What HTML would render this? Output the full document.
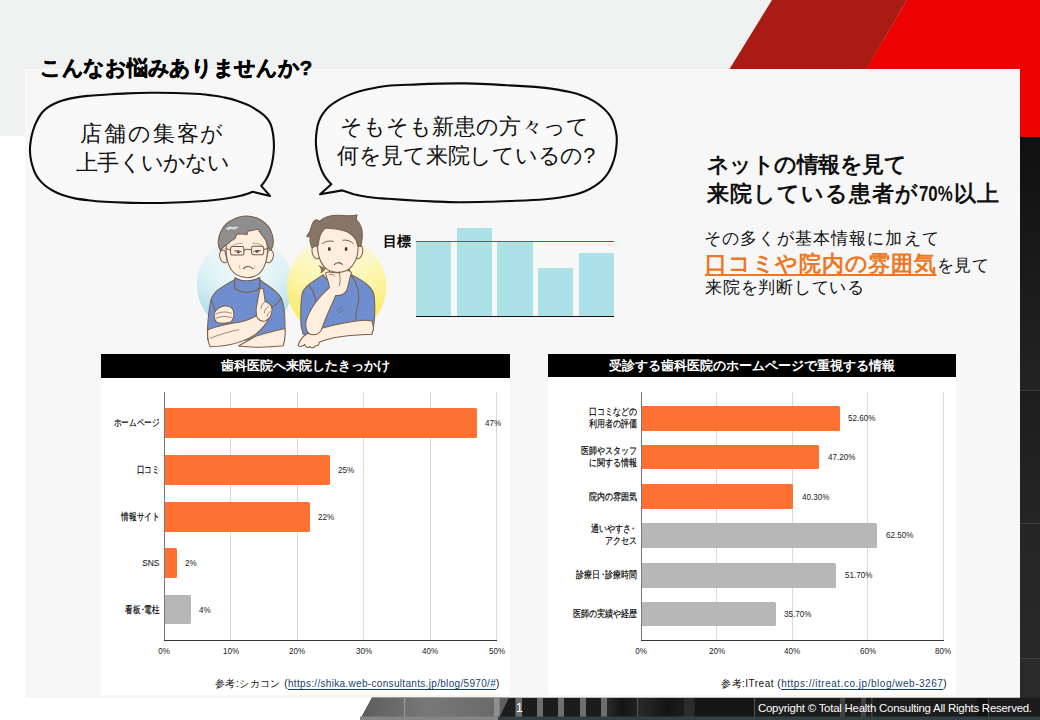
<!DOCTYPE html>
<html lang="ja">
<head>
<meta charset="utf-8">
<title>こんなお悩みありませんか?</title>
<style>
*{margin:0;padding:0;box-sizing:border-box;}
html,body{width:1040px;height:720px;overflow:hidden;background:#fff;}
body{font-family:"Liberation Sans",sans-serif;color:#000;position:relative;}
.abs{position:absolute;}
#stage{position:absolute;left:0;top:0;width:1040px;height:720px;overflow:hidden;background:#fff;}
#topband{left:0;top:0;width:1040px;height:135.6px;background:#f0f1f1;}
#panel{left:25px;top:68.5px;width:995px;height:629px;background:#f7f7f7;border-top:1px solid #fbfbfb;border-left:1px solid #fbfbfb;}
#rightdark{left:1020px;top:136.5px;width:20px;height:584px;background:linear-gradient(to bottom,#101010 0,#232323 253px,#3a3a3a 253px,#3a3a3a 254px,#1d1d1d 254px,#252525 386px,#3c3c3c 386px,#3c3c3c 387px,#252525 387px,#292929 521px,#404040 521px,#404040 522px,#2a2a2a 522px,#2a2a2a 100%);}
#title{left:40px;top:54px;font-size:20.9px;font-weight:bold;line-height:28px;white-space:nowrap;letter-spacing:-0.3px;-webkit-text-stroke:.5px #000;}
.nw{white-space:nowrap;}
.bub{font-size:21.6px;line-height:29px;text-align:center;white-space:nowrap;color:#111;}
.hd{font-size:21.6px;font-weight:bold;line-height:29px;white-space:nowrap;color:#111;}
.tx{font-size:17.4px;line-height:25.5px;white-space:nowrap;color:#111;}
.or{font-size:21.6px;letter-spacing:.75px;font-weight:bold;color:#ee7722;text-decoration:underline;text-decoration-thickness:1.5px;text-underline-offset:2.5px;}
.ctitle{background:#000;color:#fff;font-weight:bold;font-size:13px;line-height:23px;text-align:center;white-space:nowrap;}
.cbody{background:#fff;}
.grid{width:1px;background:#d9d9d9;}
.axis{background:#5a5a5a;}
.bar{height:29.5px;background:#ff7033;border-radius:0 1.5px 1.5px 0;}
.bar.g{background:#b7b7b7;}
.lab{font-size:9.6px;line-height:12px;text-align:right;white-space:nowrap;color:#000;-webkit-text-stroke:.18px #000;transform:scaleX(.76);transform-origin:100% 50%;}
.val{font-size:9.5px;line-height:12px;white-space:nowrap;color:#222;transform:scaleX(.85);transform-origin:0 50%;}
.tick{font-size:9.5px;line-height:12px;white-space:nowrap;color:#222;width:40px;margin-left:-20px;text-align:center;transform:scaleX(.85);}
.ref{font-size:10px;line-height:14px;white-space:nowrap;color:#111;}
.md{margin:0 -.25em;}
.lab.b{transform:scaleX(.8);}
.ref u{color:#173f6e;text-decoration:underline;text-underline-offset:2px;text-decoration-thickness:1px;}

</style>
</head>
<body>
<div id="stage">
<div id="topband" class="abs"></div>
<svg class="abs" style="left:700px;top:0" width="340" height="140" viewBox="700 0 340 140">
<polygon points="772,0 907,0 826,138 687,138" fill="#a81c14"/>
<polygon points="907,0 1040,0 1040,137 826,137" fill="#ed0202"/>
</svg>
<div id="rightdark" class="abs"></div>
<div id="panel" class="abs"></div>

<!-- speech bubbles -->
<svg class="abs" style="left:0;top:0" width="1040" height="720" viewBox="0 0 1040 720">
<path d="M252.9,191.8 C251.0,192.4 245.6,194.5 241.7,195.5 C237.8,196.5 233.4,197.3 229.2,198.0 C225.0,198.7 221.6,199.2 216.7,199.7 C211.8,200.2 206.9,200.7 200.0,201.2 C193.1,201.7 183.3,202.2 175.0,202.5 C166.7,202.8 158.3,203.0 150.0,203.0 C141.7,203.0 132.5,202.8 125.0,202.6 C117.5,202.4 110.8,202.1 105.0,201.8 C99.2,201.4 95.0,201.1 90.0,200.5 C85.0,199.9 79.6,199.3 75.0,198.4 C70.4,197.5 66.2,196.4 62.5,195.1 C58.8,193.8 55.4,192.1 52.5,190.5 C49.6,188.9 47.2,187.3 45.0,185.5 C42.8,183.7 40.9,181.8 39.2,179.7 C37.5,177.6 36.2,175.5 35.0,173.0 C33.8,170.5 32.9,167.5 32.1,164.7 C31.3,161.9 30.8,159.1 30.4,156.3 C30.0,153.5 29.9,151.1 30.0,148.0 C30.1,144.9 30.7,141.1 31.2,138.0 C31.8,134.9 32.4,132.5 33.3,129.7 C34.2,126.9 35.3,124.1 36.7,121.3 C38.1,118.5 39.9,115.3 41.7,113.0 C43.5,110.7 45.4,109.1 47.5,107.6 C49.6,106.1 51.7,105.0 54.2,103.8 C56.7,102.6 59.7,101.4 62.5,100.5 C65.3,99.6 66.6,99.2 70.8,98.4 C75.0,97.6 81.8,96.5 87.5,95.9 C93.2,95.3 98.4,95.1 105.0,94.7 C111.6,94.3 119.5,93.7 127.0,93.4 C134.5,93.1 142.0,92.9 150.0,92.8 C158.0,92.7 166.7,92.8 175.0,93.0 C183.3,93.2 193.8,93.6 200.0,94.0 C206.2,94.4 208.3,94.9 212.5,95.5 C216.7,96.1 220.8,96.7 225.0,97.6 C229.2,98.5 233.3,99.5 237.5,100.9 C241.7,102.3 246.2,104.0 250.0,105.9 C253.8,107.8 257.2,110.2 260.0,112.2 C262.8,114.2 264.9,115.9 266.7,118.0 C268.5,120.1 269.8,122.2 270.8,124.7 C271.8,127.2 272.4,130.2 272.9,133.0 C273.4,135.8 273.6,138.8 273.8,141.3 C273.9,143.8 274.0,145.5 273.9,148.0 C273.8,150.5 273.6,153.5 273.2,156.3 C272.8,159.1 272.4,161.9 271.7,164.7 C271.0,167.5 270.2,170.5 269.2,173.0 C268.2,175.5 267.1,177.5 265.8,179.7 C264.5,181.8 262.0,184.9 261.2,185.9 L270,195.9 Z" fill="#f9f9f9" stroke="#0c0c0c" stroke-width="2.1" stroke-linejoin="round"/>
<path d="M331.3,184.2 C330.5,183.4 328.1,181.0 326.8,179.2 C325.4,177.4 324.2,175.7 323.0,173.3 C321.8,170.9 320.6,167.8 319.7,165.0 C318.8,162.2 318.2,159.5 317.6,156.7 C317.0,153.9 316.6,151.1 316.3,148.3 C316.0,145.5 315.8,143.1 315.9,140.0 C316.0,136.9 316.3,133.1 316.8,130.0 C317.2,127.0 317.8,124.3 318.8,121.7 C319.8,119.1 320.9,116.7 322.6,114.2 C324.3,111.7 326.4,108.9 328.8,106.7 C331.2,104.5 334.0,102.7 337.2,100.8 C340.4,98.9 344.2,97.0 348.0,95.4 C351.8,93.8 355.5,92.4 359.7,91.2 C363.9,90.1 368.3,89.2 373.0,88.3 C377.7,87.4 380.6,86.4 388.0,85.8 C395.4,85.2 408.8,84.8 417.5,84.4 C426.2,84.0 432.1,83.8 440.0,83.6 C447.9,83.4 457.2,83.3 465.0,83.4 C472.8,83.5 480.0,83.8 487.0,84.1 C494.0,84.4 500.2,84.9 506.9,85.3 C513.6,85.7 520.6,86.0 527.0,86.4 C533.4,86.8 539.9,87.4 545.0,87.9 C550.1,88.4 553.3,88.9 557.5,89.6 C561.7,90.3 565.8,91.1 570.0,92.1 C574.2,93.1 578.6,94.3 582.5,95.8 C586.4,97.2 590.1,99.0 593.3,100.8 C596.5,102.6 599.2,104.6 601.7,106.7 C604.2,108.8 606.5,111.1 608.3,113.3 C610.1,115.5 611.4,117.6 612.5,120.0 C613.6,122.4 614.3,125.0 615.0,127.5 C615.7,130.0 616.2,132.9 616.5,135.0 C616.8,137.1 616.8,137.8 616.8,140.0 C616.8,142.2 616.6,145.5 616.2,148.3 C615.9,151.1 615.5,153.9 614.8,156.7 C614.1,159.5 613.2,162.2 612.1,165.0 C611.0,167.8 609.5,170.8 607.9,173.3 C606.3,175.8 604.6,177.9 602.5,180.0 C600.4,182.1 597.9,183.9 595.0,185.8 C592.1,187.7 588.6,189.7 585.0,191.2 C581.4,192.8 577.5,194.0 573.3,195.0 C569.1,196.0 564.7,196.8 560.0,197.5 C555.3,198.2 552.3,198.6 545.0,199.2 C537.7,199.8 525.8,200.4 516.3,200.8 C506.8,201.2 497.4,201.6 488.0,201.8 C478.6,202.0 468.3,202.2 460.0,202.2 C451.7,202.2 445.1,201.8 438.0,201.6 C430.9,201.3 425.8,201.2 417.5,200.7 C409.2,200.2 394.4,199.2 388.0,198.8 C381.6,198.3 382.4,198.5 378.8,198.2 C375.2,197.9 370.5,197.4 366.3,196.7 C362.1,196.0 357.8,195.2 353.8,194.2 C349.8,193.1 344.1,191.0 342.2,190.4 L320.1,194.2 Z" fill="#f9f9f9" stroke="#0c0c0c" stroke-width="2.1" stroke-linejoin="round"/>
</svg>
<div class="abs bub" style="left:52px;top:118.5px;width:200px;"><span style="letter-spacing:1.8px;margin-right:-1.8px">店舗の集客が</span><br><span style="letter-spacing:-.8px;margin-right:.8px;position:relative;left:1.3px">上手くいかない</span></div>
<div class="abs bub" style="left:334px;top:111.5px;width:260px;">そもそも新患の方々って<br><span style="letter-spacing:-.25px;position:relative;left:2px">何を見て来院しているの?</span></div>

<!-- illustration: two worried men -->
<svg class="abs" style="left:190px;top:205px" width="210" height="145" viewBox="0 0 1040 718">
<defs>
<linearGradient id="cb" x1="0" y1="0" x2="0" y2="1"><stop offset="0" stop-color="#e4f5f8" stop-opacity=".45"/><stop offset=".4" stop-color="#d2eef3"/><stop offset="1" stop-color="#a4dbe7"/></linearGradient>
<linearGradient id="cy" x1="0" y1="0" x2="0" y2="1"><stop offset="0" stop-color="#fdf8c0" stop-opacity=".3"/><stop offset=".3" stop-color="#fdf5a6" stop-opacity=".9"/><stop offset=".55" stop-color="#fcf08a"/><stop offset="1" stop-color="#fae84e"/></linearGradient>
<radialGradient id="cw" cx="50%" cy="45%" r="50%"><stop offset="0" stop-color="#fff" stop-opacity=".75"/><stop offset=".6" stop-color="#fff" stop-opacity=".35"/><stop offset="1" stop-color="#fff" stop-opacity="0"/></radialGradient>
<clipPath id="clipb"><rect x="0" y="0" width="1040" height="718"/></clipPath>
</defs>
<g clip-path="url(#clipb)" stroke-linejoin="round" stroke-linecap="round">
<!-- bg circles -->
<circle cx="272" cy="395" r="238" fill="url(#cb)"/><circle cx="272" cy="395" r="238" fill="url(#cw)"/>
<circle cx="726" cy="405" r="246" fill="url(#cy)"/><circle cx="726" cy="405" r="246" fill="url(#cw)" opacity=".6"/>

<!-- LEFT MAN -->
<g stroke="#7b5d47" stroke-width="5">
<!-- body -->
<path d="M222,368 C170,400 120,420 104,470 C92,520 88,580 86,622 L88,668 L468,668 L470,622 C472,560 468,500 452,462 C430,420 380,400 345,368 L345,410 C300,440 260,435 222,410 Z" fill="#6f8ecf"/>
<!-- collar -->
<path d="M222,360 C222,380 220,400 222,412 C260,440 310,440 345,410 C347,395 345,375 345,358 C310,380 260,382 222,360 Z" fill="#6f8ecf"/>
<!-- sleeve lines -->
<path d="M104,470 C120,500 128,530 130,560" fill="none"/>
<path d="M452,462 C440,480 420,500 400,512" fill="none"/>
<!-- arms crossed -->
<path d="M470,612 C440,618 390,630 325,650 L240,698 C320,708 420,702 462,697 C470,670 473,640 470,612 Z" fill="#fdeedd"/>
<path d="M88,618 C86,650 90,682 100,702 C185,700 262,682 322,642 C352,620 378,590 394,556 L332,546 C300,566 252,582 215,584 C170,592 128,602 88,618 Z" fill="#fdeedd"/>
<path d="M100,660 C150,640 200,625 240,618" fill="none" stroke-width="3.5"/>
<!-- left fist -->
<path d="M120,548 C118,525 140,505 168,500 C192,498 212,508 216,528 C220,548 214,566 204,578 C180,586 150,588 132,580 C122,572 120,560 120,548 Z" fill="#fdeedd"/>
<path d="M128,540 C150,528 178,526 205,536 M130,560 C155,550 180,550 208,558" fill="none" stroke-width="3.5"/>
<!-- right hand pointing -->
<path d="M345,420 C350,408 362,410 364,422 L372,478 C392,484 408,500 406,524 C404,548 392,566 372,574 C358,578 344,572 334,560 C326,540 326,512 332,490 C336,466 340,442 345,420 Z" fill="#fdeedd"/>
<path d="M372,478 C360,486 352,498 352,512 M388,504 C376,510 368,522 368,534 M398,528 C388,532 382,542 382,552" fill="none" stroke-width="3.5"/>
<!-- ears -->
<path d="M172,225 C150,215 140,245 152,270 C160,288 178,290 185,280 Z" fill="#fdeedd"/>
<path d="M388,225 C410,215 420,245 408,270 C400,288 382,290 375,280 Z" fill="#fdeedd"/>
<!-- face -->
<path d="M180,200 C175,260 190,320 230,345 C262,365 305,365 335,345 C372,320 388,260 382,200 C382,70 180,70 180,200 Z" fill="#fdeedd"/>
<!-- hair -->
<path d="M151,226 C140,205 138,192 140,179 C142,150 150,135 160,118 C172,98 190,82 209,74 C232,62 255,55 281,55 C305,55 328,62 347,72 C368,84 385,100 396,118 C406,138 412,160 413,179 C413,195 408,210 402,222 L391,217 C390,210 388,205 385,201 C382,190 378,181 374,173 C369,165 364,158 358,151 C350,140 343,130 336,119 C320,124 302,129 288,128 L282,147 C266,140 246,144 230,145 L225,164 C205,176 182,196 162,212 Z" fill="#8e8e8e"/>
</g>
<path d="M176,120 C186,106 204,104 214,110 C224,104 236,106 243,112 C232,113 224,118 220,124 C210,117 198,118 192,126 C188,120 182,119 176,120 Z" fill="#d9d9d9"/>
<!-- glasses -->
<g fill="none" stroke="#6a5a50" stroke-width="5">
<rect x="201" y="206" width="66" height="42" rx="9"/>
<rect x="305" y="204" width="60" height="42" rx="9"/>
<path d="M267,224 C280,218 292,218 305,223 M201,222 L176,216 M365,220 L392,214"/>
</g>
<!-- eyes & brows -->
<g fill="none" stroke="#6b4e3c" stroke-width="5">
<path d="M222,228 C232,225 244,226 254,232"/>
<path d="M316,231 C326,225 338,224 348,227"/>
<path d="M212,201 C228,192 245,189 259,190 M311,189 C326,188 344,192 358,200" stroke-width="3.5" stroke="#9a8272"/>
<path d="M264,315 C274,302 300,300 311,316" stroke-width="5"/>
<path d="M246,298 C242,305 243,312 248,318 M320,300 C322,306 320,312 316,316" stroke-width="2.5" stroke="#a08a7a"/>
</g>
<ellipse cx="239" cy="234" rx="8" ry="5" fill="#5b4334"/><ellipse cx="332" cy="232" rx="8" ry="5" fill="#5b4334"/>

<!-- RIGHT MAN -->
<g stroke="#7b5d47" stroke-width="5">
<!-- body -->
<path d="M660,345 C610,380 565,400 555,440 C545,500 548,560 550,600 L560,640 L900,640 C915,600 920,500 910,440 C900,400 850,372 800,345 C780,380 730,400 700,400 Z" fill="#6f8ecf"/>
<path d="M800,350 C835,400 845,450 830,500 C822,530 820,550 822,570" fill="none"/>
<path d="M590,400 C610,420 620,450 622,480" fill="none"/>
<path d="M728,520 L755,505 M735,535 L758,522" fill="none" stroke-width="4"/>
<!-- lower arm horizontal -->
<path d="M900,575 C860,560 760,585 690,600 C640,612 600,625 575,640 C555,655 540,680 535,695 C545,705 560,700 568,690 C572,705 585,710 592,700 C600,712 615,708 620,698 C632,700 640,690 640,680 C700,650 800,645 900,640 C910,620 910,595 900,575 Z" fill="#fdeedd"/>
<!-- neck -->
<path d="M690,320 L690,380 C720,400 760,395 790,360 L790,320 Z" fill="#fdeedd"/>
<!-- raised arm with fist on chin -->
<path d="M575,575 C590,520 640,450 690,410 C690,380 670,350 672,335 C690,325 720,340 740,335 C760,322 790,318 800,335 C790,360 785,400 775,425 C760,445 740,450 722,448 C700,500 670,560 650,620 C630,650 590,650 578,620 C572,605 572,590 575,575 Z" fill="#fdeedd"/>
<path d="M690,345 C700,340 712,345 716,352 M740,338 C745,360 745,380 740,400" fill="none" stroke-width="4"/>
<!-- ears -->
<path d="M628,200 C605,190 598,225 610,250 C618,268 635,270 642,262 Z" fill="#fdeedd"/>
<path d="M832,200 C855,190 862,225 850,250 C842,268 825,270 818,262 Z" fill="#fdeedd"/>
<!-- face -->
<path d="M635,170 C625,230 640,290 680,320 C715,340 760,338 790,315 C825,285 838,230 830,170 C830,60 636,60 635,170 Z" fill="#fdeedd"/>
<!-- hair -->
<path d="M604,212 C596,195 592,175 596,160 L578,155 C590,140 598,125 600,112 C604,95 610,82 618,76 C628,70 636,74 640,82 C660,62 695,52 726,51 C760,50 795,58 828,49 C822,62 822,70 826,76 C845,95 853,120 853,141 C855,165 850,185 845,206 L831,204 C828,190 825,180 820,169 C812,155 802,147 792,141 C780,132 768,128 754,125 C740,120 725,117 710,117 C698,116 686,115 674,114 C668,116 665,118 663,122 C655,130 650,138 646,147 C640,165 637,180 635,198 C625,202 615,207 604,212 Z" fill="#877567"/>
</g>
<g fill="none" stroke="#6b4e3c" stroke-width="5">
<path d="M655,191 C668,180 690,175 710,180 M757,174 C775,171 796,178 809,191" stroke-width="4.5"/>
<path d="M715,296 C722,283 745,281 754,295"/>
<path d="M640,300 C650,315 655,325 648,335 C660,330 668,322 670,312" stroke-width="4" fill="#8b7564"/>
</g>
<ellipse cx="690" cy="218" rx="7" ry="10" fill="#4a3528"/><ellipse cx="773" cy="218" rx="7" ry="10" fill="#4a3528"/>
</g>
</svg>
<!-- mini chart -->
<div class="abs" style="left:416px;top:241px;width:35px;height:75px;background:#ace1e8"></div>
<div class="abs" style="left:457px;top:228px;width:35px;height:88px;background:#ace1e8"></div>
<div class="abs" style="left:497px;top:241px;width:36px;height:75px;background:#ace1e8"></div>
<div class="abs" style="left:538px;top:268px;width:35px;height:48px;background:#ace1e8"></div>
<div class="abs" style="left:579px;top:253px;width:35px;height:63px;background:#ace1e8"></div>
<div class="abs" style="left:416px;top:240.6px;width:198px;height:1.2px;background:#e0282a"></div>
<div class="abs" style="left:416px;top:315.6px;width:198px;height:1.4px;background:#111"></div>
<div class="abs nw" style="left:382.6px;top:233.2px;font-size:13.6px;line-height:17px;font-weight:bold;letter-spacing:.8px">目標</div>

<!-- right text -->
<div class="abs hd" style="left:706.5px;top:150px;letter-spacing:-.5px">ネットの情報を見て</div>
<div class="abs hd" style="left:706.5px;top:179px;"><span style="letter-spacing:1.05px">来院している患者が</span><span style="display:inline-block;transform:scaleX(.78);transform-origin:0 50%;width:35px;letter-spacing:0">70%</span><span style="letter-spacing:1.05px">以上</span></div>
<div class="abs tx" style="left:704px;top:225.5px;letter-spacing:1.15px">その多くが基本情報に加えて</div>
<div class="abs tx" style="left:705px;top:250.5px;"><span class="or">口コミや院内の雰囲気</span><span style="position:relative;left:0px;letter-spacing:.5px">を見て</span></div>
<div class="abs tx" style="left:705px;top:275px;letter-spacing:.75px">来院を判断している</div>
<!-- left chart -->
<div class="abs cbody" style="left:101px;top:377px;width:409px;height:318px"></div>
<div class="abs ctitle" style="left:101px;top:354px;width:409px;height:24px">歯科医院へ来院したきっかけ</div>
<div class="abs grid" style="left:230.0px;top:392px;height:248px"></div>
<div class="abs grid" style="left:296.5px;top:392px;height:248px"></div>
<div class="abs grid" style="left:363.0px;top:392px;height:248px"></div>
<div class="abs grid" style="left:429.5px;top:392px;height:248px"></div>
<div class="abs grid" style="left:496.0px;top:392px;height:248px"></div>
<div class="abs axis" style="left:163.5px;top:392px;width:1px;height:248.5px;background:#787878"></div>
<div class="abs axis" style="left:163.5px;top:639.5px;width:333.5px;height:1px;background:#383838"></div>
<div class="abs bar" style="left:164.5px;top:408px;width:312.1px"></div>
<div class="abs lab" style="left:60px;width:99.5px;top:417.0px">ホームページ</div>
<div class="abs val" style="left:484.6px;top:417.0px">47%</div>
<div class="abs bar" style="left:164.5px;top:455px;width:165.8px"></div>
<div class="abs lab" style="left:60px;width:99.5px;top:464.0px">口コミ</div>
<div class="abs val" style="left:338.2px;top:464.0px">25%</div>
<div class="abs bar" style="left:164.5px;top:502px;width:145.8px"></div>
<div class="abs lab" style="left:60px;width:99.5px;top:511.0px">情報サイト</div>
<div class="abs val" style="left:318.3px;top:511.0px">22%</div>
<div class="abs bar" style="left:164.5px;top:548px;width:12.8px"></div>
<div class="abs lab" style="left:60px;width:99.5px;top:557.0px;-webkit-text-stroke:0;transform:scaleX(.88)">SNS</div>
<div class="abs val" style="left:185.3px;top:557.0px">2%</div>
<div class="abs bar g" style="left:164.5px;top:594.5px;width:26.1px"></div>
<div class="abs lab" style="left:60px;width:99.5px;top:603.5px">看板<span class="md">・</span>電柱</div>
<div class="abs val" style="left:198.6px;top:603.5px">4%</div>
<div class="abs tick" style="left:164.0px;top:645px">0%</div>
<div class="abs tick" style="left:230.5px;top:645px">10%</div>
<div class="abs tick" style="left:297.0px;top:645px">20%</div>
<div class="abs tick" style="left:363.5px;top:645px">30%</div>
<div class="abs tick" style="left:430.0px;top:645px">40%</div>
<div class="abs tick" style="left:496.5px;top:645px">50%</div>
<div class="abs ref" style="left:215px;top:676.7px"><span style="letter-spacing:.45px">参考:シカコン (</span><u style="letter-spacing:.32px">https://shika.web-consultants.jp/blog/5970/#</u>)</div>
<!-- right chart -->
<div class="abs cbody" style="left:548px;top:377px;width:407.5px;height:318px"></div>
<div class="abs ctitle" style="left:548px;top:354px;width:407.5px;height:23px">受診する歯科医院のホームページで重視する情報</div>
<div class="abs grid" style="left:716.2px;top:392px;height:248px"></div>
<div class="abs grid" style="left:791.6px;top:392px;height:248px"></div>
<div class="abs grid" style="left:867.1px;top:392px;height:248px"></div>
<div class="abs grid" style="left:942.5px;top:392px;height:248px"></div>
<div class="abs axis" style="left:640.8px;top:392px;width:1px;height:248.5px;background:#787878"></div>
<div class="abs axis" style="left:640.8px;top:639.5px;width:303px;height:1px;background:#383838"></div>
<div class="abs bar" style="left:641.8px;top:405.75px;width:197.9px;height:24.75px"></div>
<div class="abs lab b" style="left:536px;width:100.6px;top:406.1px">口コミなどの<br>利用者の評価</div>
<div class="abs val" style="left:848.2px;top:412.1px">52.60%</div>
<div class="abs bar" style="left:641.8px;top:444.5px;width:177.5px;height:24.75px"></div>
<div class="abs lab b" style="left:536px;width:100.6px;top:444.9px">医師やスタッフ<br>に関する情報</div>
<div class="abs val" style="left:827.8px;top:450.9px">47.20%</div>
<div class="abs bar" style="left:641.8px;top:484.25px;width:151.5px;height:24.75px"></div>
<div class="abs lab b" style="left:536px;width:100.6px;top:490.6px">院内の雰囲気</div>
<div class="abs val" style="left:801.8px;top:490.6px">40.30%</div>
<div class="abs bar g" style="left:641.8px;top:523px;width:235.2px;height:24.75px"></div>
<div class="abs lab b" style="left:536px;width:100.6px;top:523.4px">通いやすさ<span class="md" style="margin-right:0">・</span><br>アクセス</div>
<div class="abs val" style="left:885.5px;top:529.4px">62.50%</div>
<div class="abs bar g" style="left:641.8px;top:563px;width:194.5px;height:24.75px"></div>
<div class="abs lab b" style="left:536px;width:100.6px;top:569.4px">診療日<span class="md">・</span>診療時間</div>
<div class="abs val" style="left:844.8px;top:569.4px">51.70%</div>
<div class="abs bar g" style="left:641.8px;top:601.5px;width:134.2px;height:24.75px"></div>
<div class="abs lab b" style="left:536px;width:100.6px;top:607.9px">医師の実績や経歴</div>
<div class="abs val" style="left:784.4px;top:607.9px">35.70%</div>
<div class="abs tick" style="left:641.2px;top:645px">0%</div>
<div class="abs tick" style="left:716.7px;top:645px">20%</div>
<div class="abs tick" style="left:792.1px;top:645px">40%</div>
<div class="abs tick" style="left:867.6px;top:645px">60%</div>
<div class="abs tick" style="left:943.0px;top:645px">80%</div>
<div class="abs ref" style="left:721px;top:676.7px"><span style="letter-spacing:.5px">参考:ITreat (</span><u style="letter-spacing:.52px">https://itreat.co.jp/blog/web-3267</u>)</div>

<!-- bottom bar -->
<svg class="abs" style="left:340px;top:696px" width="700" height="24" viewBox="340 696 700 24">
<defs>
<linearGradient id="gb1" x1="0" x2="1" y1="0" y2="0"><stop offset="0" stop-color="#5c5c5c"/><stop offset=".5" stop-color="#787878"/><stop offset="1" stop-color="#6a6a6a"/></linearGradient>
<linearGradient id="gb2" x1="0" x2="1" y1="0" y2="0"><stop offset="0" stop-color="#2a2a2a"/><stop offset=".5" stop-color="#141414"/><stop offset="1" stop-color="#222"/></linearGradient>
</defs>
<polygon points="372,697.7 1040,697.7 1040,720 360,720" fill="#1c1c1c"/>
<polygon points="372,697.7 509,697.7 499.7,716.5 499.7,720 360,720" fill="#5f5f5f"/>
<polygon points="372,697.7 494,697.7 494,720 360,720" fill="url(#gb1)"/>
<rect x="404" y="698" width="1.2" height="19" fill="#999"/>
<rect x="494" y="697.7" width="5.7" height="19" fill="#8f8f8f"/>
<g fill="#6e6e6e">
<rect x="515.5" y="698" width="6.5" height="20"/><rect x="537" y="698" width="6" height="20"/><rect x="558" y="698" width="6" height="20"/><rect x="580" y="698" width="6" height="20"/><rect x="601" y="698" width="6" height="20"/>
</g>
<rect x="607" y="698" width="30" height="20" fill="url(#gb2)"/>
<rect x="637" y="698" width="1" height="20" fill="#555"/>
<rect x="638" y="698" width="58" height="20" fill="url(#gb2)"/>
<rect x="754" y="698" width="1" height="20" fill="#555"/>
<g fill="#414141"><rect x="840" y="698" width="5" height="19"/><rect x="861" y="698" width="5" height="19"/><rect x="871" y="698" width="1.5" height="19"/><rect x="988" y="698" width="1" height="19"/></g><rect x="977" y="698" width="10.5" height="19" fill="#101010"/><rect x="684" y="698" width="10" height="19" fill="#2c2c2c"/><rect x="695" y="698" width="59" height="19" fill="#151515"/>
<rect x="360" y="716.5" width="138" height="3.5" fill="#858585"/>
<rect x="498" y="716.5" width="542" height="3.5" fill="#343f45"/>
</svg>
<div class="abs nw" style="left:516px;top:701px;font-size:12.4px;line-height:14px;color:#fff;">1</div>
<div class="abs nw" id="copy" style="left:758px;top:700.6px;font-size:11.4px;line-height:14px;color:#fff;letter-spacing:-.22px;">Copyright © Total Health Consulting All Rights Reserved.</div>

<div id="title" class="abs">こんなお悩みありませんか?</div>
</div>
</body>
</html>
